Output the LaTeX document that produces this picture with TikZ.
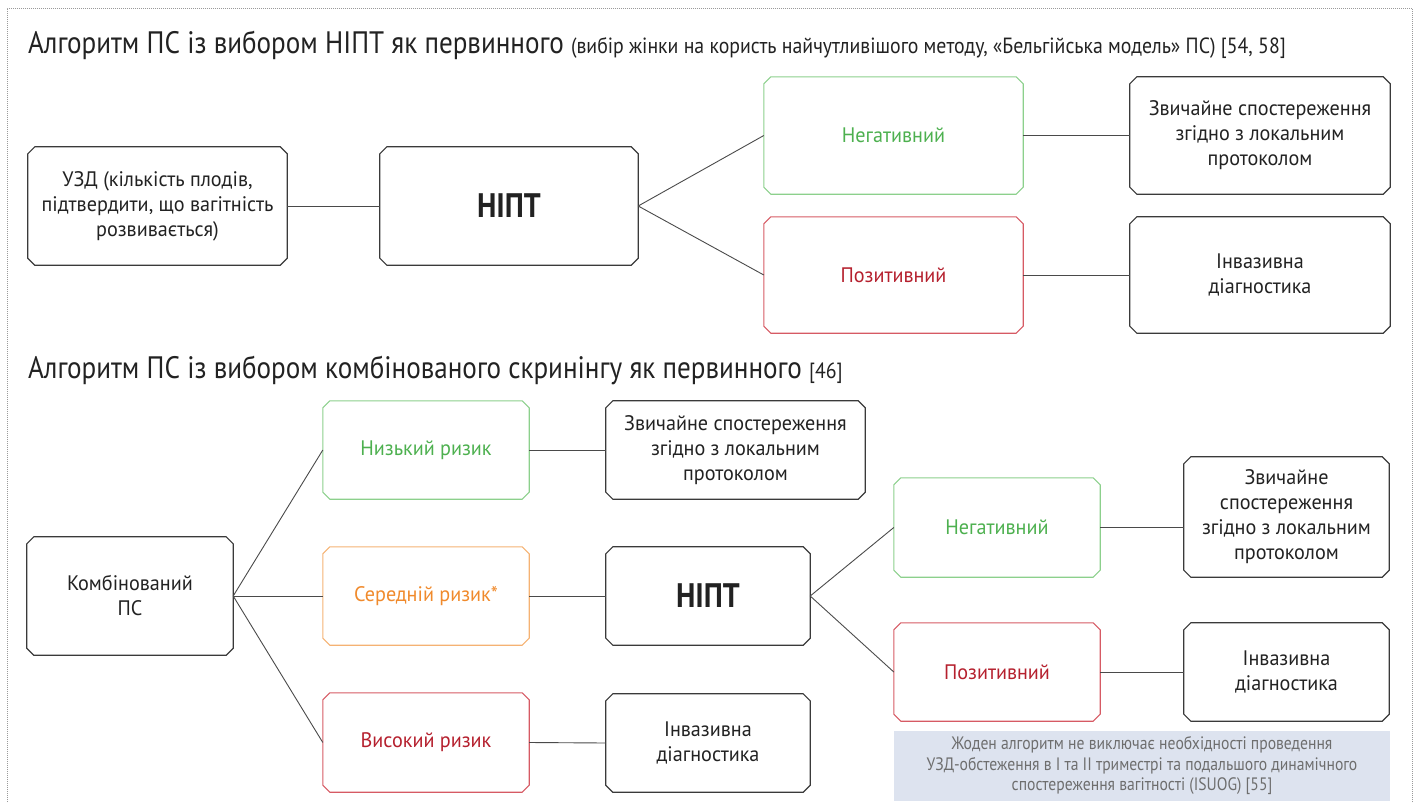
\documentclass[tikz,border=0pt]{standalone}
\usepackage{fontspec}
\setmainfont[FakeStretch=0.96]{PT Sans}
\newfontfamily\ttlfont[FakeStretch=0.875]{PT Sans}
\newfontfamily\smfont[FakeStretch=0.9]{PT Sans}
\newfontfamily\notefont[FakeStretch=0.87]{PT Sans}
\definecolor{gtxt}{HTML}{4DB04F}
\definecolor{gbrd}{HTML}{8CD08C}
\definecolor{rtxt}{HTML}{B5202E}
\definecolor{rbrd}{HTML}{D65A64}
\definecolor{otxt}{HTML}{F08A2C}
\definecolor{obrd}{HTML}{F5B273}
\definecolor{kbrd}{HTML}{3A3A3A}
\definecolor{ktxt}{HTML}{222222}
\definecolor{notefill}{HTML}{DDE3EF}
\definecolor{notetxt}{HTML}{6E6E6E}
\definecolor{framec}{HTML}{9A9A9A}
\definecolor{connc}{HTML}{4A4A4A}
\newcommand\chbox[2]{\draw[#2] ([xshift=7pt]#1.north west) -- ([xshift=-7pt]#1.north east) -- ([yshift=-7pt]#1.north east) -- ([yshift=7pt]#1.south east) -- ([xshift=-7pt]#1.south east) -- ([xshift=7pt]#1.south west) -- ([yshift=7pt]#1.south west) -- ([yshift=-7pt]#1.north west) -- cycle;}
\begin{document}
\begin{tikzpicture}[x=1pt,y=-1pt,
  bx/.style={rectangle, inner sep=0pt, align=center, text=ktxt, font=\fontsize{21}{25}\selectfont},
  nipt/.style={font=\ttlfont\fontsize{34}{38}\selectfont\bfseries},
  kb/.style={draw=kbrd, line width=1.2pt},
  gb/.style={draw=gbrd, line width=1.1pt},
  rb/.style={draw=rbrd, line width=1.1pt},
  ob/.style={draw=obrd, line width=1.1pt},
  conn/.style={draw=connc, line width=0.9pt},
  ttl/.style={anchor=base west, inner sep=0pt, text=ktxt, font=\ttlfont\fontsize{31}{36}\selectfont}]
\useasboundingbox (0,0) rectangle (1416,803);
\draw[framec, line width=0.8pt, dash pattern=on 0.8pt off 1.2pt] (7,810) -- (7,8) -- (1412,8) -- (1412,810);

\node[ttl] (t1) at (28,53) {Алгоритм ПС із вибором НІПТ як первинного {\smfont\fontsize{22}{26}\selectfont (вибір жінки на користь найчутливішого методу, «Бельгійська модель» ПС) [54, 58]}};
\node[ttl] (t2) at (28,378) {Алгоритм ПС із вибором комбінованого скринінгу як первинного {\smfont\fontsize{22}{26}\selectfont [46]}};

% top section
\node[bx, minimum width=259pt, minimum height=118pt] (uzd) at (157.5,206) {УЗД (кількість плодів,\\підтвердити, що вагітність\\розвивається)};
\node[bx, nipt, minimum width=258pt, minimum height=118pt] (nipt1) at (509,206) {НІПТ};
\node[bx, minimum width=259pt, minimum height=117pt, text=gtxt] (neg1) at (893.5,135.5) {Негативний};
\node[bx, minimum width=259pt, minimum height=116pt, text=rtxt] (pos1) at (893.5,275) {Позитивний};
\node[bx, minimum width=260pt, minimum height=117pt] (obs1) at (1260,135.5) {Звичайне спостереження\\згідно з локальним\\протоколом};
\node[bx, minimum width=260pt, minimum height=116pt] (inv1) at (1260,275) {Інвазивна\\діагностика};
\chbox{uzd}{kb}
\chbox{nipt1}{kb}
\chbox{neg1}{gb}
\chbox{pos1}{rb}
\chbox{obs1}{kb}
\chbox{inv1}{kb}
\draw[conn] (uzd.east) -- (nipt1.west);
\draw[conn] (nipt1.east) -- (neg1.west);
\draw[conn] (nipt1.east) -- (pos1.west);
\draw[conn] (neg1.east) -- (obs1.west);
\draw[conn] (pos1.east) -- (inv1.west);

% bottom section
\node[bx, minimum width=206pt, minimum height=118pt] (komb) at (130,596) {Комбінований\\ПС};
\node[bx, minimum width=206pt, minimum height=98pt, text=gtxt] (low) at (426,450) {Низький ризик};
\node[bx, minimum width=206pt, minimum height=98pt, text=otxt] (mid) at (426,596) {Середній ризик*};
\node[bx, minimum width=206pt, minimum height=99pt, text=rtxt] (high) at (426,742.5) {Високий ризик};
\node[bx, minimum width=259pt, minimum height=98pt] (obs2) at (735.5,450) {Звичайне спостереження\\згідно з локальним\\протоколом};
\node[bx, nipt, minimum width=204pt, minimum height=98pt] (nipt2) at (708,596) {НІПТ};
\node[bx, minimum width=204pt, minimum height=98pt] (inv2) at (708,743) {Інвазивна\\діагностика};
\node[bx, minimum width=206pt, minimum height=99pt, text=gtxt] (neg2) at (997,527.5) {Негативний};
\node[bx, minimum width=206pt, minimum height=98pt, text=rtxt] (pos2) at (997,672) {Позитивний};
\node[bx, minimum width=205pt, minimum height=120pt] (obs3) at (1286.5,517) {Звичайне\\спостереження\\згідно з локальним\\протоколом};
\node[bx, minimum width=205pt, minimum height=98pt] (inv3) at (1286.5,672) {Інвазивна\\діагностика};
\node[rectangle, inner sep=0pt, fill=notefill, minimum width=496pt, minimum height=70pt, align=center, text=notetxt, font=\notefont\fontsize{18}{20.5}\selectfont] (note) at (1142,766) {Жоден алгоритм не виключає необхідності проведення\\УЗД-обстеження в І та ІІ триместрі та подальшого динамічного\\спостереження вагітності (ISUOG) [55]};
\chbox{komb}{kb}
\chbox{low}{gb}
\chbox{mid}{ob}
\chbox{high}{rb}
\chbox{obs2}{kb}
\chbox{nipt2}{kb}
\chbox{inv2}{kb}
\chbox{neg2}{gb}
\chbox{pos2}{rb}
\chbox{obs3}{kb}
\chbox{inv3}{kb}
\draw[conn] (komb.east) -- (low.west);
\draw[conn] (komb.east) -- (mid.west);
\draw[conn] (komb.east) -- (high.west);
\draw[conn] (low.east) -- (obs2.west);
\draw[conn] (mid.east) -- (nipt2.west);
\draw[conn] (high.east) -- (inv2.west);
\draw[conn] (nipt2.east) -- (neg2.west);
\draw[conn] (nipt2.east) -- (pos2.west);
\draw[conn] (neg2.east) -- (neg2.east -| obs3.west);
\draw[conn] (pos2.east) -- (inv3.west);
\end{tikzpicture}
\end{document}
